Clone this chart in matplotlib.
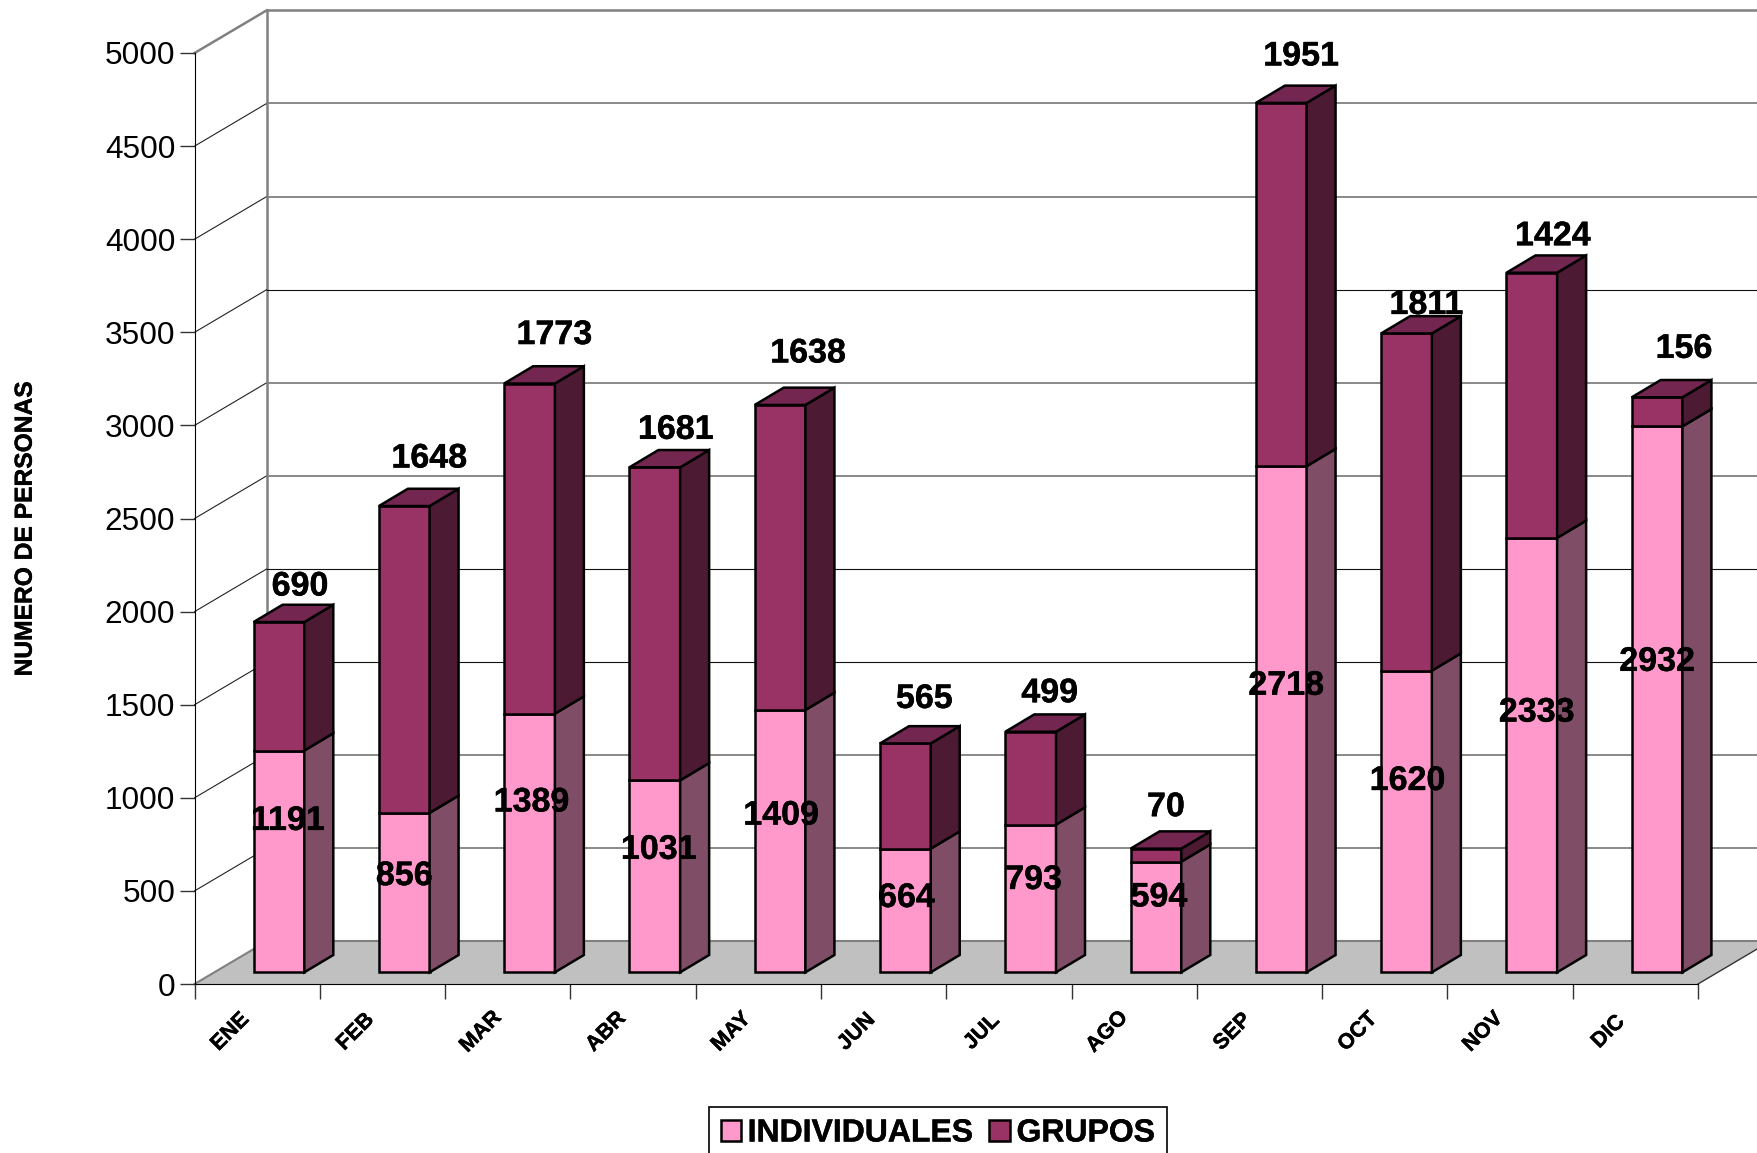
import matplotlib
matplotlib.use('Agg')
import matplotlib.pyplot as plt
import matplotlib.patheffects as pe
from matplotlib.patches import Patch

plt.rcParams['font.family'] = ['Liberation Sans', 'DejaVu Sans']

meses = ['ENE', 'FEB', 'MAR', 'ABR', 'MAY', 'JUN', 'JUL', 'AGO', 'SEP', 'OCT', 'NOV', 'DIC']
individuales = [1191, 856, 1389, 1031, 1409, 664, 793, 594, 2718, 1620, 2333, 2932]
grupos = [690, 1648, 1773, 1681, 1638, 565, 499, 70, 1951, 1811, 1424, 156]
y_ticks = [0, 500, 1000, 1500, 2000, 2500, 3000, 3500, 4000, 4500, 5000]

# label nudges in pixels, the labels were moved by hand in the original
nudge_ind = [(9, 40), (0, 16), (2, 40), (4, 26), (1, 25), (1, 12),
             (3, 18), (3, 19), (5, 33), (1, 40), (5, 42), (0, 37)]
nudge_gru = [(21, 35), (25, 47), (25, 48), (21, 37), (28, 51), (19, 44),
             (19, 38), (10, 41), (20, 46), (20, 28), (21, 36), (27, 48)]

W, H = 1758, 1153
x0, x1, y0, y5 = 194.6, 1698.0, 984.0, 53.0
px_x = (x1 - x0) / 12
px_y = (y0 - y5) / 5000

# depth of the fake 3d box and of the bars, in data units
box_dx = 72 / px_x
box_dy = 42.6 / px_y
bar_dx = 29 / px_x
bar_dy = 17.3 / px_y
bar_left = 59 / px_x
bar_w = 50.7 / px_x
bar_base = 11.7 / px_y

ROSA = '#FF99CC'
ROSA_LADO = '#804D66'
VINO = '#993366'
VINO_LADO = '#4D1A33'
VINO_TOP = '#732650'
GRIS = '#808080'
EDGE = dict(edgecolor='black', linewidth=1.8, joinstyle='miter')
GRUESA = [pe.withStroke(linewidth=0.3, foreground='black')]
OSCURAS = [1500, 2000, 3500]

fig = plt.figure(figsize=(W / 100, H / 100), dpi=100)
ax = fig.add_axes([x0 / W, 1 - y0 / H, (x1 - x0) / W, (y0 - y5) / H])
ax.set_xlim(0, 12)
ax.set_ylim(0, 5000)
ax.patch.set_visible(False)
for s in ['top', 'right']:
    ax.spines[s].set_visible(False)
ax.spines['left'].set_zorder(2)
ax.spines['bottom'].set_zorder(2)

# floor and walls
ax.fill([0, 12, 12 + box_dx, box_dx], [0, 0, box_dy, box_dy], facecolor='#C0C0C0',
        edgecolor='none', clip_on=False, zorder=1)
ax.plot([box_dx, 12 + box_dx], [box_dy, box_dy], color=GRIS, lw=1.5, clip_on=False, zorder=1)
ax.plot([0, box_dx], [0, box_dy], color=GRIS, lw=1.5, clip_on=False, zorder=1)
ax.plot([12, 12 + box_dx], [0, box_dy], color='#333333', lw=1, clip_on=False, zorder=1)
ax.plot([box_dx, box_dx], [box_dy, 5000 + box_dy], color=GRIS, lw=1.8, clip_on=False, zorder=1)
for t in y_ticks[1:]:
    top = t == y_ticks[-1]
    ax.plot([0, box_dx], [t, t + box_dy], color=GRIS if top else '#222222', lw=1.8 if top else 0.8,
            clip_on=False, zorder=1)
    if top:
        color, lw = GRIS, 1.8
    elif t in OSCURAS:
        color, lw = '#111111', 0.8
    else:
        color, lw = GRIS, 1.3
    ax.plot([box_dx, 12 + box_dx], [t + box_dy, t + box_dy], color=color, lw=lw, clip_on=False, zorder=1)

# bars, front face with bar() and the sides as polygons
xs = [i + bar_left for i in range(12)]
ax.bar(xs, individuales, bar_w, bottom=bar_base, align='edge', facecolor=ROSA, zorder=3, **EDGE)
tops_ind = [v + bar_base for v in individuales]
ax.bar(xs, grupos, bar_w, bottom=tops_ind, align='edge', facecolor=VINO, zorder=3, **EDGE)
for i in range(12):
    r = xs[i] + bar_w
    a = bar_base
    b = tops_ind[i]
    c = b + grupos[i]
    ax.fill([r, r + bar_dx, r + bar_dx, r], [a, a + bar_dy, b + bar_dy, b], facecolor=ROSA_LADO, zorder=3,
            clip_on=False, **EDGE)
    ax.fill([r, r + bar_dx, r + bar_dx, r], [b, b + bar_dy, c + bar_dy, c], facecolor=VINO_LADO, zorder=3,
            clip_on=False, **EDGE)
    ax.fill([xs[i], r, r + bar_dx, xs[i] + bar_dx], [c, c, c + bar_dy, c + bar_dy], facecolor=VINO_TOP,
            zorder=3, clip_on=False, **EDGE)

    cx = xs[i] + bar_w / 2
    ax.annotate(str(individuales[i]), xy=(cx, a + individuales[i] / 2), xytext=nudge_ind[i],
                textcoords='offset pixels', ha='center', va='center', fontsize=24.5, fontweight='bold',
                zorder=5, path_effects=GRUESA)
    ax.annotate(str(grupos[i]), xy=(cx, c), xytext=nudge_gru[i], textcoords='offset pixels',
                ha='center', va='center', fontsize=24.5, fontweight='bold', zorder=2.5, path_effects=GRUESA)
    ax.annotate(meses[i], xy=(i + 0.5, 0), xytext=(-27, -48), textcoords='offset pixels', rotation=45,
                ha='center', va='center', fontsize=15.5, fontweight='bold', annotation_clip=False,
                path_effects=GRUESA)

ax.set_yticks(y_ticks)
ax.set_xticks(range(13))
ax.set_xticklabels([])
ax.tick_params(axis='both', length=11, width=1, color='#333333', pad=3)
ax.tick_params(axis='y', labelsize=22.7)
ylab = ax.set_ylabel('NUMERO DE PERSONAS', fontsize=17.7, fontweight='bold', va='center')
ylab.set_path_effects(GRUESA)
ax.yaxis.set_label_coords(-0.113, 0.489)

handles = [Patch(facecolor=ROSA, edgecolor='black', linewidth=1.8),
           Patch(facecolor=VINO, edgecolor='black', linewidth=1.8)]
leg = fig.legend(handles, ['INDIVIDUALES', 'GRUPOS'], ncols=2, loc='upper left',
                 bbox_to_anchor=(709 / W, 1 - 1107 / H), borderaxespad=0, fancybox=False,
                 framealpha=1, edgecolor='black',
                 prop={'size': 23, 'weight': 'bold'}, handlelength=0.65, handleheight=0.65,
                 handletextpad=0.2, columnspacing=0.5, borderpad=0.36)
leg.get_frame().set_linewidth(1.2)
for t in leg.get_texts():
    t.set_path_effects(GRUESA)

fig.savefig('out.png', dpi=100)
